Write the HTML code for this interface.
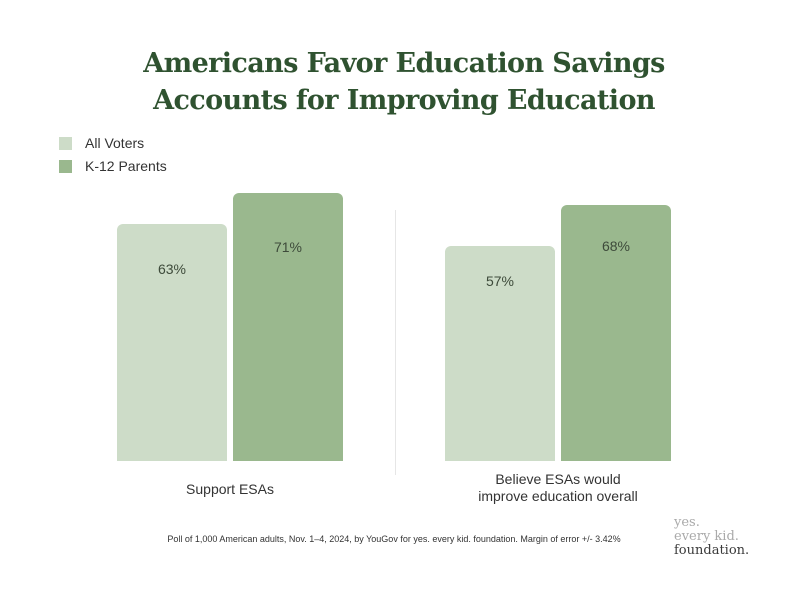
<!DOCTYPE html>
<html><head><meta charset="utf-8"><style>
body{margin:0;width:788px;height:591px;background:#fff;font-family:"Liberation Sans",sans-serif;position:relative;overflow:hidden}
.a{position:absolute}
.t{left:10px;width:788px;text-align:center;top:45px;font-family:"DejaVu Serif",serif;font-weight:bold;font-size:27px;line-height:37px;color:#2f5230;letter-spacing:-0.6px}
.bar{position:absolute;border-radius:6px 6px 0 0}
.l{background:#cddcc8}.d{background:#9ab88e}
.v{position:absolute;font-size:14px;color:#3d4a3a;width:110px;text-align:center}
.c{position:absolute;font-size:14px;color:#333;text-align:center;line-height:17px}
</style></head><body>
<div class="a t">Americans Favor Education Savings<br>Accounts for Improving Education</div>
<div class="a" style="left:59px;top:137px;width:13px;height:13px;background:#cddcc8"></div>
<div class="a" style="left:85px;top:135px;font-size:14px;color:#333">All Voters</div>
<div class="a" style="left:59px;top:160px;width:13px;height:13px;background:#9ab88e"></div>
<div class="a" style="left:85px;top:158px;font-size:14px;color:#333">K-12 Parents</div>
<div class="bar l" style="left:117px;top:224px;width:110px;height:237px"></div>
<div class="bar d" style="left:233px;top:193px;width:110px;height:268px"></div>
<div class="bar l" style="left:445px;top:246px;width:110px;height:215px"></div>
<div class="bar d" style="left:561px;top:205px;width:110px;height:256px"></div>
<div class="a" style="left:395px;top:210px;width:1px;height:265px;background:#e6e6e6"></div>
<div class="v" style="left:117px;top:261px">63%</div>
<div class="v" style="left:233px;top:239px">71%</div>
<div class="v" style="left:445px;top:273px">57%</div>
<div class="v" style="left:561px;top:238px">68%</div>
<div class="c" style="left:130px;width:200px;top:481px">Support ESAs</div>
<div class="c" style="left:458px;width:200px;top:471px">Believe ESAs would<br>improve education overall</div>
<div class="a" style="left:0;width:788px;text-align:center;top:534px;font-size:9px;color:#333">Poll of 1,000 American adults, Nov. 1–4, 2024, by YouGov for yes. every kid. foundation. Margin of error +/- 3.42%</div>
<div class="a" style="left:674px;top:516px;font-family:'DejaVu Serif',serif;font-size:13px;line-height:14px;color:#aaa">yes.<br>every kid.<br><span style="color:#3a3a3a">foundation.</span></div>
</body></html>
